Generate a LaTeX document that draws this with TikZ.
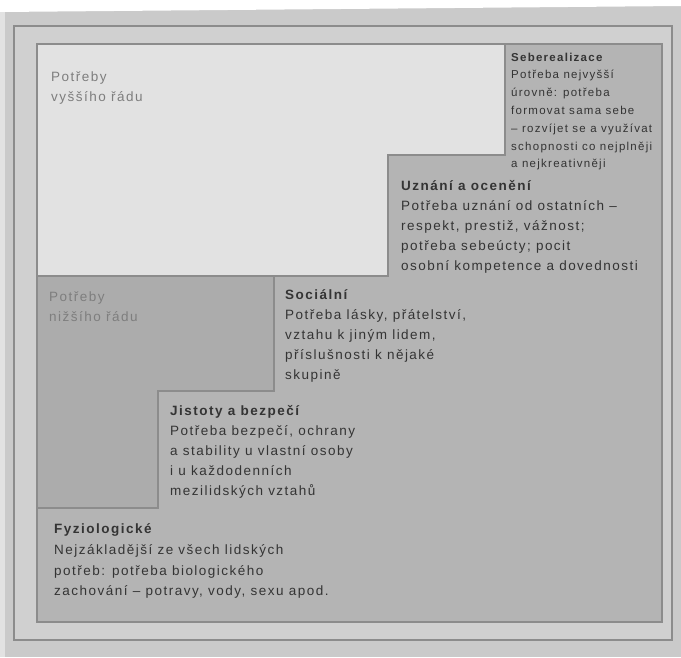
\documentclass[tikz,border=0pt]{standalone}
\usepackage{fontspec}
\setmainfont{Liberation Sans}[LetterSpace=11]
\definecolor{pagegray}{HTML}{CACACA}
\definecolor{bandgray}{HTML}{D0D0D0}
\definecolor{hiwhite}{HTML}{E2E2E2}
\definecolor{lowgray}{HTML}{ACACAC}
\definecolor{stepgray}{HTML}{B4B4B4}
\definecolor{edgecol}{HTML}{8C8C8C}
\definecolor{inkcol}{HTML}{343434}
\definecolor{labcol}{HTML}{7E7E7E}
\tikzset{
  edgeline/.style={draw=edgecol, line width=1.1pt, line join=miter},
  needtext/.style={anchor=north west, inner sep=0pt, align=left, text=inkcol,
    font=\fontsize{13.5}{20}\selectfont},
  smalltext/.style={needtext, font=\fontsize{11.5}{17.8}\selectfont},
  fyztext/.style={needtext, font=\fontsize{13.5}{20.7}\selectfont},
  grouplabel/.style={anchor=north west, inner sep=0pt, align=left, text=labcol,
    font=\fontsize{13.5}{19.5}\selectfont}
}
\begin{document}
\begin{tikzpicture}[x=1pt,y=-1pt]
\useasboundingbox (0,0) rectangle (681,657);
% photographed page
\fill[pagegray] (0,0) rectangle (681,657);
\fill[white] (0,0) -- (681,0) -- (681,6) -- (0,12) -- cycle;
\fill[hiwhite] (0,12) rectangle (5,657);
% outer frame
\draw[edgeline, fill=bandgray] (14,26) rectangle (672,640);
% inner box: lower-needs area
\fill[lowgray] (37,44) rectangle (662,622);
% higher needs (white) area
\fill[hiwhite] (37,44) -- (505,44) -- (505,155) -- (388,155) -- (388,276) -- (37,276) -- cycle;
% staircase of needs
\fill[stepgray] (505,44) -- (662,44) -- (662,622) -- (37,622) -- (37,508) -- (158,508)
  -- (158,391) -- (274,391) -- (274,276) -- (388,276) -- (388,155) -- (505,155) -- cycle;
\draw[edgeline] (37,44) rectangle (662,622);
\draw[edgeline] (505,44) -- (505,155) -- (388,155) -- (388,276) -- (37,276);
\draw[edgeline] (274,276) -- (274,391) -- (158,391) -- (158,508) -- (37,508);
% texts
\node[grouplabel] (vyssi) at (51,68) {\strut Potřeby\\vyššího řádu};
\node[grouplabel] (nizsi) at (49,288) {\strut Potřeby\\nižšího řádu};
\node[smalltext] (sebe) at (511,48.5) {\strut\textbf{Seberealizace}\\Potřeba nejvyšší\\úrovně: potřeba\\formovat sama sebe\\– rozvíjet se a využívat\\schopnosti co nejplněji\\a nejkreativněji};
\node[needtext] (uznani) at (401,176) {\strut\textbf{Uznání a ocenění}\\Potřeba uznání od ostatních –\\respekt, prestiž, vážnost;\\potřeba sebeúcty; pocit\\osobní kompetence a dovednosti};
\node[needtext] (socialni) at (285,285) {\strut\textbf{Sociální}\\Potřeba lásky, přátelství,\\vztahu k jiným lidem,\\příslušnosti k nějaké\\skupině};
\node[needtext] (jistoty) at (170,401) {\strut\textbf{Jistoty a bezpečí}\\Potřeba bezpečí, ochrany\\a stability u vlastní osoby\\i u každodenních\\mezilidských vztahů};
\node[fyztext] (fyz) at (54,519) {\strut\textbf{Fyziologické}\\Nejzákladější ze všech lidských\\potřeb: potřeba biologického\\zachování – potravy, vody, sexu apod.};
\end{tikzpicture}
\end{document}
